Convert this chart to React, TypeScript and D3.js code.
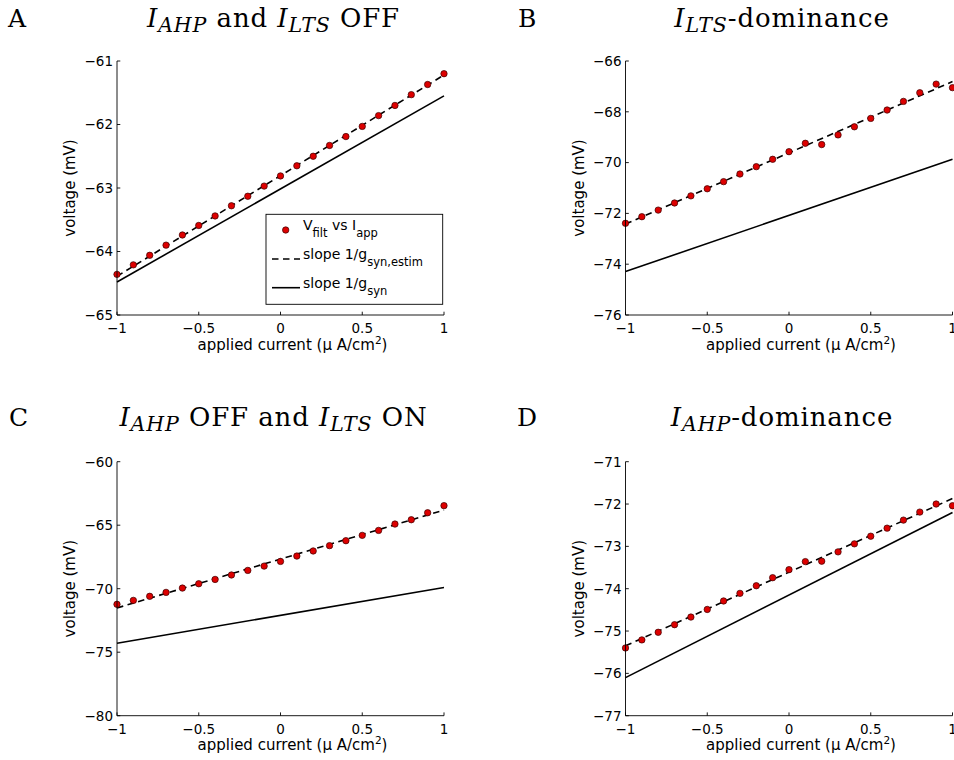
import * as d3 from "d3";

// applied current (µA/cm²) sample points, shared by all four panels
const appliedCurrent = [
  -1, -0.9, -0.8, -0.7, -0.6, -0.5, -0.4, -0.3, -0.2, -0.1, 0,
  0.1, 0.2, 0.3, 0.4, 0.5, 0.6, 0.7, 0.8, 0.9, 1,
];

// filtered voltage (mV) per panel
const vFiltA = [
  -64.36, -64.21, -64.06, -63.9, -63.74, -63.59, -63.44, -63.28, -63.13, -62.97, -62.81,
  -62.65, -62.5, -62.33, -62.19, -62.03, -61.86, -61.7, -61.53, -61.37, -61.2,
];
const vFiltB = [
  -72.39, -72.13, -71.87, -71.59, -71.31, -71.03, -70.75, -70.45, -70.16, -69.87, -69.57,
  -69.24, -69.29, -68.91, -68.59, -68.26, -67.93, -67.59, -67.25, -66.91, -67.05,
];
const vFiltC = [
  -71.23, -70.92, -70.6, -70.29, -69.95, -69.61, -69.27, -68.92, -68.56, -68.22, -67.85,
  -67.43, -67.03, -66.61, -66.22, -65.8, -65.41, -64.91, -64.57, -64.02, -63.46,
];
const vFiltD = [
  -75.4, -75.21, -75.03, -74.85, -74.67, -74.49, -74.29, -74.11, -73.93, -73.74, -73.55,
  -73.36, -73.35, -73.13, -72.94, -72.76, -72.57, -72.38, -72.19, -72.0, -72.04,
];

// fitted lines, values at the two ends of the current range
const lineEnds = [-1, 1];
const estimA = [-64.39, -61.22];
const synA = [-64.48, -61.55];
const estimB = [-72.42, -66.81];
const synB = [-74.29, -69.87];
const estimC = [-71.52, -63.81];
const synC = [-74.3, -69.9];
const estimD = [-75.35, -71.87];
const synD = [-76.1, -72.2];

// axes ticks
const xTicks = [-1, -0.5, 0, 0.5, 1];
const yTicksA = [-65, -64, -63, -62, -61];
const yTicksB = [-76, -74, -72, -70, -68, -66];
const yTicksC = [-80, -75, -70, -65, -60];
const yTicksD = [-77, -76, -75, -74, -73, -72, -71];

type Seg = { t: string; it?: boolean; sub?: boolean };

const titleA: Seg[] = [
  { t: "I", it: true }, { t: "AHP", it: true, sub: true }, { t: " and " },
  { t: "I", it: true }, { t: "LTS", it: true, sub: true }, { t: " OFF" },
];
const titleB: Seg[] = [{ t: "I", it: true }, { t: "LTS", it: true, sub: true }, { t: "-dominance" }];
const titleC: Seg[] = [
  { t: "I", it: true }, { t: "AHP", it: true, sub: true }, { t: " OFF and " },
  { t: "I", it: true }, { t: "LTS", it: true, sub: true }, { t: " ON" },
];
const titleD: Seg[] = [{ t: "I", it: true }, { t: "AHP", it: true, sub: true }, { t: "-dominance" }];

const W = 954;
const H = 760;
const PW = 327;
const PH = 254;
const SANS = "DejaVu Sans, sans-serif";
const SERIF = "DejaVu Serif, serif";
const RED = "#dd0000";

const fmt = (v: number) => String(v).replace("-", "\u2212");

function Title({ x, y, segs }: { x: number; y: number; segs: Seg[] }) {
  const out: JSX.Element[] = [];
  let shifted = false;
  segs.forEach((s, i) => {
    let dy = 0;
    if (s.sub && !shifted) { dy = 5; shifted = true; }
    else if (!s.sub && shifted) { dy = -5; shifted = false; }
    out.push(
      <tspan key={i} dy={dy} fontStyle={s.it ? "italic" : "normal"} fontSize={s.sub ? 20.5 : 26}>
        {s.t}
      </tspan>
    );
  });
  return (
    <text x={x} y={y} textAnchor="middle" fontFamily={SERIF} fill="#000" letterSpacing={0.9}
      style={{ whiteSpace: "pre" }}>
      {out}
    </text>
  );
}

type PanelProps = {
  letter: string;
  letterX: number;
  left: number;
  top: number;
  titleY: number;
  yTicks: number[];
  values: number[];
  estim: number[];
  syn: number[];
  title: Seg[];
  legend?: boolean;
};

function Panel(p: PanelProps) {
  const x = d3.scaleLinear().domain([-1, 1]).range([p.left, p.left + PW]);
  const y = d3
    .scaleLinear()
    .domain([p.yTicks[0], p.yTicks[p.yTicks.length - 1]])
    .range([p.top + PH, p.top]);
  const line = d3
    .line<number>()
    .x((_, i) => x(lineEnds[i]))
    .y((d) => y(d));
  const bottom = p.top + PH;
  const cx = p.left + PW / 2;

  return (
    <g>
      <text x={p.letterX} y={p.titleY} fontFamily={SERIF} fontSize={25} fill="#000">
        {p.letter}
      </text>
      <Title x={cx - 7} y={p.titleY} segs={p.title} />

      {/* fitted lines */}
      <path d={line(p.syn) ?? ""} fill="none" stroke="#000" strokeWidth={1.6} />
      <path d={line(p.estim) ?? ""} fill="none" stroke="#000" strokeWidth={1.6} strokeDasharray="6.5,4.5" />

      {/* data points */}
      {p.values.map((v, i) => (
        <circle key={i} cx={x(appliedCurrent[i])} cy={y(v)} r={3.2} fill={RED} stroke="#3a0000" strokeWidth={0.7} />
      ))}

      {/* axes */}
      <g stroke="#000" strokeWidth={0.9} fill="none">
        <line x1={p.left} x2={p.left} y1={p.top} y2={bottom} />
        <line x1={p.left} x2={p.left + PW} y1={bottom} y2={bottom} />
        {xTicks.map((t) => (
          <line key={t} x1={x(t)} x2={x(t)} y1={bottom} y2={bottom - 3.3} />
        ))}
        {p.yTicks.map((t) => (
          <line key={t} x1={p.left} x2={p.left + 3.3} y1={y(t)} y2={y(t)} />
        ))}
      </g>
      <g fontFamily={SANS} fontSize={13.5} fill="#000">
        {xTicks.map((t) => (
          <text key={t} x={x(t)} y={bottom + 18} textAnchor="middle">
            {fmt(t)}
          </text>
        ))}
        {p.yTicks.map((t) => (
          <text key={t} x={p.left - 4} y={y(t)} dy="0.36em" textAnchor="end">
            {fmt(t)}
          </text>
        ))}
      </g>
      <text x={cx + 12} y={bottom + 34.5} textAnchor="middle" fontFamily={SANS} fontSize={15} fill="#000">
        applied current (µ A/cm
        <tspan fontSize={10.5} dy={-6}>2</tspan>
        <tspan dy={6}>)</tspan>
      </text>
      <text
        transform={`translate(${p.left - 42},${p.top + PH / 2}) rotate(-90)`}
        textAnchor="middle"
        fontFamily={SANS}
        fontSize={15}
        fill="#000"
      >
        voltage (mV)
      </text>

      {p.legend && <Legend />}
    </g>
  );
}

function Legend() {
  const bx = 266;
  const by = 214.3;
  const rows = [230, 259, 287.7];
  const tx = 303;
  return (
    <g>
      <rect x={bx} y={by} width={176.7} height={90} fill="#fff" stroke="#000" strokeWidth={0.9} />
      <circle cx={285.7} cy={rows[0]} r={3.2} fill={RED} stroke="#3a0000" strokeWidth={0.7} />
      <line x1={272} x2={300} y1={rows[1]} y2={rows[1]} stroke="#000" strokeWidth={1.6} strokeDasharray="6.5,4.5" />
      <line x1={272} x2={300} y1={rows[2]} y2={rows[2]} stroke="#000" strokeWidth={1.6} />
      <g fontFamily={SANS} fontSize={14} fill="#000" style={{ whiteSpace: "pre" }}>
        <text x={tx} y={rows[0]}>
          V<tspan fontSize={11.5} dy={7}>filt</tspan>
          <tspan dy={-7}> vs I</tspan>
          <tspan fontSize={11.5} dy={7}>app</tspan>
        </text>
        <text x={tx} y={rows[1]}>
          slope 1/g<tspan fontSize={11.5} dy={7}>syn,estim</tspan>
        </text>
        <text x={tx} y={rows[2]}>
          slope 1/g<tspan fontSize={11.5} dy={7}>syn</tspan>
        </text>
      </g>
    </g>
  );
}

export default function App() {
  return (
    <div>
      <style>{`body{margin:0}`}</style>
      <svg width={W} height={H} style={{ display: "block", background: "#fff" }}>
        <rect width={W} height={H} fill="#fff" />
        <Panel letter="A" letterX={8} left={117} top={61} titleY={27} yTicks={yTicksA}
          values={vFiltA} estim={estimA} syn={synA} title={titleA} legend />
        <Panel letter="B" letterX={518} left={625.5} top={61} titleY={27} yTicks={yTicksB}
          values={vFiltB} estim={estimB} syn={synB} title={titleB} />
        <Panel letter="C" letterX={9} left={117} top={461.7} titleY={426} yTicks={yTicksC}
          values={vFiltC} estim={estimC} syn={synC} title={titleC} />
        <Panel letter="D" letterX={517} left={625.5} top={461.7} titleY={426} yTicks={yTicksD}
          values={vFiltD} estim={estimD} syn={synD} title={titleD} />
      </svg>
    </div>
  );
}
